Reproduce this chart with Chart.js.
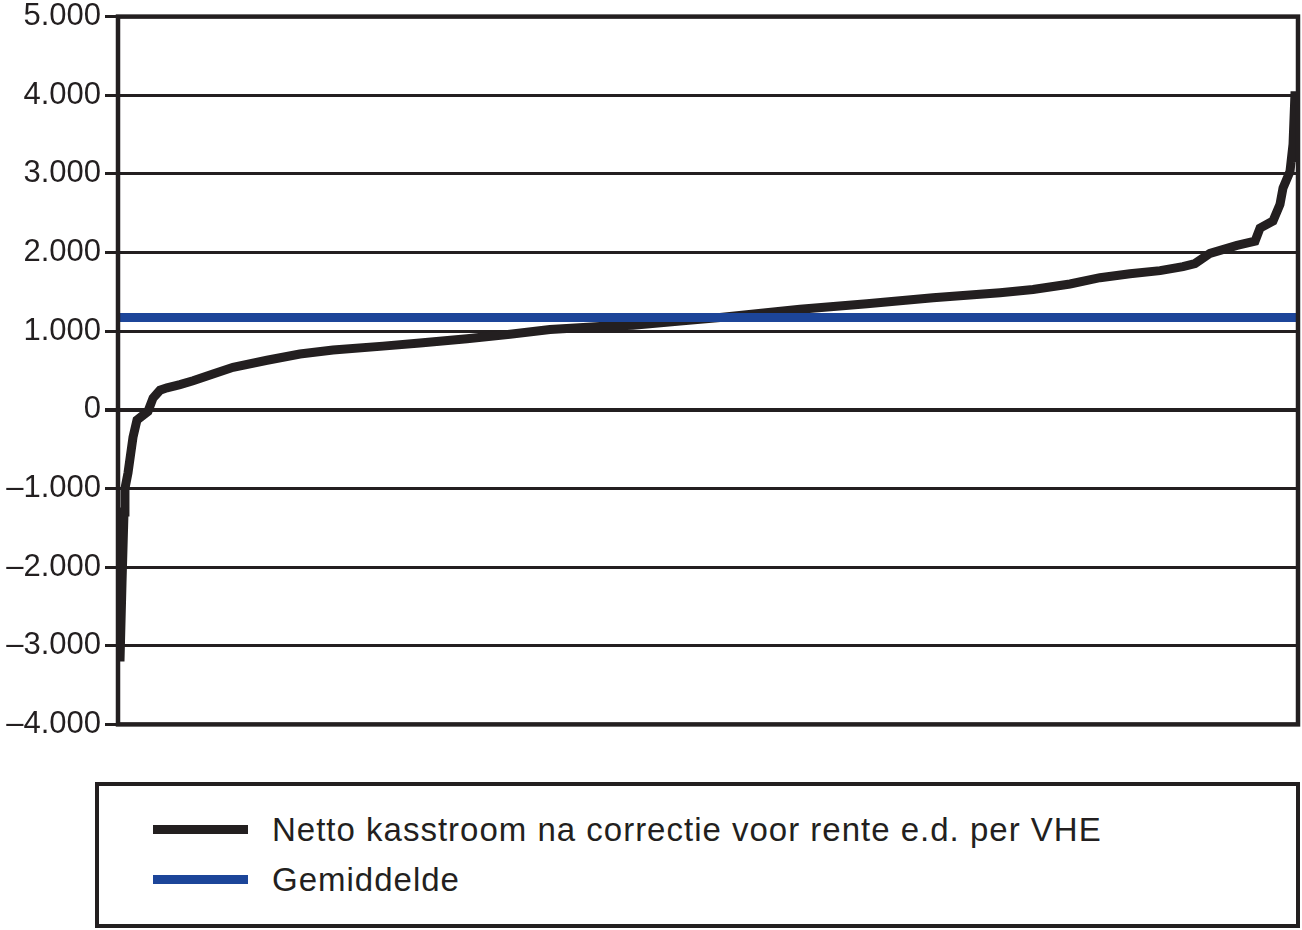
<!DOCTYPE html>
<html>
<head>
<meta charset="utf-8">
<script src="https://cdn.jsdelivr.net/npm/chart.js"></script>
<style>
body { margin: 0; background: #fff; overflow: hidden; }
#wrap { position: absolute; left: 0; top: -6px; width: 1302px; height: 753px; }
#legend {
  position: absolute; left: 95px; top: 782px; width: 1197px; height: 138px;
  border: 4px solid #231f20; font-family: "Liberation Sans", Arial, sans-serif;
  color: #231f20;
}
.item { position: absolute; left: 0; height: 40px; }
.item .swatch { position: absolute; left: 54px; width: 95px; height: 9px; top: 15px; }
.item .label { position: absolute; left: 173px; top: 0; font-size: 33px; letter-spacing: 1px; line-height: 40px; white-space: nowrap; }
</style>
</head>
<body>
<div id="wrap"><canvas id="grafiek"></canvas></div>
<div id="legend"></div>
<script>
// gesorteerde corporaties: positie in procenten van het totaal
var rangPct = [0.17, 0.34, 0.51, 0.59, 0.85, 1.27, 1.61, 2.54, 2.97, 3.56, 4.15, 5.25,
  6.36, 8.05, 9.75, 12.63, 15.42, 18.22, 22.46, 25.59, 29.58, 33.22, 36.61, 40.85,
  43.64, 47.63, 51.02, 57.80, 63.47, 69.07, 74.75, 77.54, 80.68, 83.22, 85.76, 88.31,
  90.25, 91.27, 92.54, 94.83, 96.36, 96.78, 97.88, 98.47, 98.73, 99.32, 99.58, 99.75, 99.92];
// netto kasstroom per VHE
var kasstroom = [-3200, -2200, -1300, -1000, -800, -350, -130, -20, 150, 250, 280, 320,
  370, 455, 540, 630, 710, 760, 810, 850, 905, 960, 1020, 1060,
  1075, 1130, 1175, 1280, 1350, 1425, 1490, 1530, 1600, 1680, 1730, 1770,
  1820, 1860, 1990, 2090, 2145, 2310, 2400, 2610, 2820, 3030, 3380, 4050, 3150];
var gemiddelde = 1175;

var yMin = -4000, yMax = 5000, yStap = 1000;

var zwart = '#231f20';
var blauw = '#1c4599';

function formatGetal(v) {
  var s = Math.abs(v).toString().replace(/\B(?=(\d{3})+(?!\d))/g, '.');
  return (v < 0 ? '\u2013' : '') + s;
}

var data = {
  datasets: [{
    label: 'Netto kasstroom na correctie voor rente e.d. per VHE',
    data: rangPct.map(function (r, i) { return { x: r, y: kasstroom[i] }; }),
    borderColor: zwart,
    borderWidth: 9,
    pointRadius: 0,
    tension: 0,
    order: 2
  }, {
    label: 'Gemiddelde',
    data: [{ x: 0, y: gemiddelde }, { x: 100, y: gemiddelde }],
    borderColor: blauw,
    borderWidth: 9,
    pointRadius: 0,
    order: 1
  }]
};

// kader rond het plotvlak
var kader = {
  id: 'kader',
  afterDraw: function (chart) {
    var a = chart.chartArea, c = chart.ctx;
    c.save();
    c.strokeStyle = zwart;
    c.lineWidth = 4.5;
    c.strokeRect(a.left, a.top, a.right - a.left, a.bottom - a.top);
    c.restore();
  }
};

var options = {
  responsive: true,
  maintainAspectRatio: false,
  animation: false,
  layout: { padding: { left: 0, top: 15, right: 4, bottom: 16 } },
  plugins: { legend: { display: false }, tooltip: { enabled: false } },
  scales: {
    x: { type: 'linear', min: 0, max: 100, display: false },
    y: {
      min: yMin, max: yMax,
      afterFit: function (scale) { scale.width = 118; },
      border: { display: false },
      grid: {
        color: zwart,
        lineWidth: function (ctx) { return ctx.tick && ctx.tick.value === 0 ? 4 : 3; },
        tickLength: 13
      },
      ticks: {
        stepSize: yStap,
        color: zwart,
        padding: 4,
        font: { family: '"Liberation Sans", Arial, sans-serif', size: 31 },
        callback: function (v) { return formatGetal(v); }
      }
    }
  }
};

var grafiek = new Chart(document.getElementById('grafiek'), {
  type: 'line',
  data: data,
  options: options,
  plugins: [kader]
});

// legenda in een kader onder de grafiek
var legenda = document.getElementById('legend');
data.datasets.forEach(function (ds, i) {
  var item = document.createElement('div');
  item.className = 'item';
  item.style.top = (24 + i * 50) + 'px';
  item.innerHTML = '<div class="swatch" style="background:' + ds.borderColor + '"></div>' +
    '<div class="label">' + ds.label + '</div>';
  legenda.appendChild(item);
});
</script>
</body>
</html>
